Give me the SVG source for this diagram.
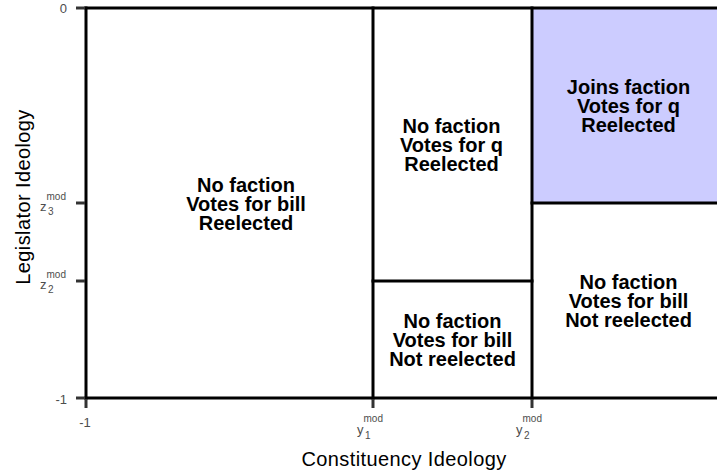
<svg xmlns="http://www.w3.org/2000/svg" width="717" height="473" viewBox="0 0 717 473">
  <style>
    .edge { stroke: #000; stroke-width: 3; fill: none; stroke-linecap: square; }
    .tick { stroke: #333; stroke-width: 3; }
    .lab { font-family: "Liberation Sans", Arial, sans-serif; font-weight: bold; font-size: 20px; fill: #000; text-anchor: middle; }
    .axt { font-family: "Liberation Sans", Arial, sans-serif; font-size: 13px; fill: #4d4d4d; }
    .sup { font-size: 10px; }
    .title { font-family: "Liberation Sans", Arial, sans-serif; font-size: 20px; letter-spacing: 0.4px; fill: #000; text-anchor: middle; }
  </style>
  <rect width="717" height="473" fill="#fff"/>

  <!-- shaded region -->
  <g id="region-joins">
    <rect x="532" y="8" width="187" height="195" fill="#ccccff"/>
    <text class="lab" x="628.5" y="94">Joins faction</text>
    <text class="lab" x="628.5" y="113">Votes for q</text>
    <text class="lab" x="628.5" y="132">Reelected</text>
  </g>

  <g id="region-left">
    <text class="lab" x="246" y="191.5">No faction</text>
    <text class="lab" x="246" y="210.5">Votes for bill</text>
    <text class="lab" x="246" y="229.5">Reelected</text>
  </g>

  <g id="region-mid-top">
    <text class="lab" x="451.5" y="133">No faction</text>
    <text class="lab" x="451.5" y="152">Votes for q</text>
    <text class="lab" x="451.5" y="171">Reelected</text>
  </g>

  <g id="region-mid-bottom">
    <text class="lab" x="452.5" y="328">No faction</text>
    <text class="lab" x="452.5" y="347">Votes for bill</text>
    <text class="lab" x="452.5" y="366">Not reelected</text>
  </g>

  <g id="region-right-bottom">
    <text class="lab" x="628.5" y="289">No faction</text>
    <text class="lab" x="628.5" y="308">Votes for bill</text>
    <text class="lab" x="628.5" y="327">Not reelected</text>
  </g>

  <!-- region boundaries -->
  <g id="boundaries">
    <line class="edge" x1="86" y1="8" x2="719" y2="8"/>
    <line class="edge" x1="86" y1="398" x2="719" y2="398"/>
    <line class="edge" x1="86" y1="8" x2="86" y2="398"/>
    <line class="edge" x1="373" y1="8" x2="373" y2="398"/>
    <line class="edge" x1="532" y1="8" x2="532" y2="398"/>
    <line class="edge" x1="373" y1="281" x2="532" y2="281"/>
    <line class="edge" x1="532" y1="203" x2="719" y2="203"/>
  </g>

  <!-- axes -->
  <g id="axis-y">
    <line class="tick" x1="76" y1="8" x2="85" y2="8"/>
    <line class="tick" x1="76" y1="203" x2="85" y2="203"/>
    <line class="tick" x1="76" y1="281" x2="85" y2="281"/>
    <line class="tick" x1="76" y1="398" x2="85" y2="398"/>
    <text class="axt" x="67" y="13" text-anchor="end">0</text>
    <text class="axt" x="40" y="211">z<tspan class="sup" dy="-11">mod</tspan><tspan class="sup" x="48" dy="15">3</tspan></text>
    <text class="axt" x="40" y="289">z<tspan class="sup" dy="-11">mod</tspan><tspan class="sup" x="48" dy="15">2</tspan></text>
    <text class="axt" x="67" y="404" text-anchor="end">-1</text>
  </g>

  <g id="axis-x">
    <line class="tick" x1="86" y1="399" x2="86" y2="408"/>
    <line class="tick" x1="373" y1="399" x2="373" y2="408"/>
    <line class="tick" x1="532" y1="399" x2="532" y2="408"/>
    <text class="axt" x="85" y="427" text-anchor="middle">-1</text>
    <text class="axt" x="357" y="434">y<tspan class="sup" dy="-12">mod</tspan><tspan class="sup" x="365" dy="17">1</tspan></text>
    <text class="axt" x="516" y="434">y<tspan class="sup" dy="-12">mod</tspan><tspan class="sup" x="524" dy="17">2</tspan></text>
  </g>

  <text class="title" x="404" y="466">Constituency Ideology</text>
  <text class="title" transform="translate(30,197) rotate(-90)">Legislator Ideology</text>
</svg>
